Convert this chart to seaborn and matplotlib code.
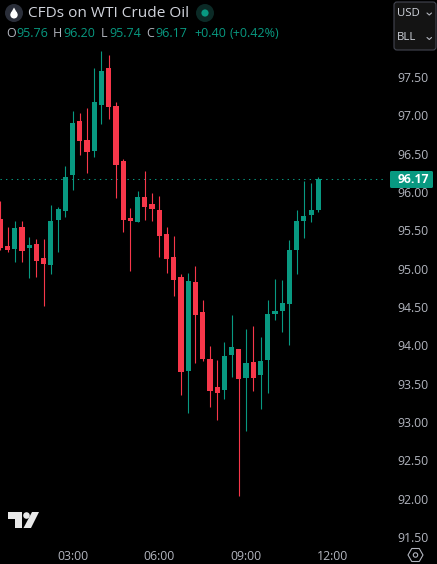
import numpy as np
import pandas as pd
import seaborn as sns
import matplotlib.pyplot as plt
from matplotlib.patches import Circle, FancyBboxPatch, Polygon, RegularPolygon

# 15 minute candles, first one sits at index 0 (left edge of the chart)
opens = [95.65, 95.30, 95.26, 95.54, 95.27, 95.32, 95.14, 95.05, 95.63, 95.75, 96.22, 96.93, 96.68, 96.53, 97.13,
         97.62, 97.12, 96.40, 95.66, 95.61, 95.94, 95.84, 95.77, 95.45, 95.15, 94.89, 93.67, 94.83, 94.44, 93.82,
         93.46, 93.42, 93.88, 93.95, 93.58, 93.78, 93.61, 93.81, 94.41, 94.45, 94.54, 95.24, 95.62, 95.70, 95.76]
highs = [95.88, 95.54, 95.62, 95.62, 95.41, 95.39, 95.39, 95.83, 95.80, 96.34, 97.06, 97.03, 97.10, 97.62, 97.84,
         97.79, 97.17, 96.43, 95.79, 96.01, 96.27, 95.99, 95.95, 95.54, 95.43, 94.93, 94.94, 95.04, 94.59, 93.99,
         93.81, 94.05, 94.40, 93.95, 94.21, 94.25, 94.11, 94.59, 94.87, 94.85, 95.38, 95.77, 96.14, 96.12, 96.20]
lows = [95.24, 95.22, 95.09, 95.09, 94.88, 94.89, 94.51, 94.93, 95.22, 95.67, 96.03, 96.48, 96.25, 96.46, 96.89,
        96.95, 95.92, 95.48, 94.97, 95.61, 95.63, 95.62, 95.15, 94.94, 94.64, 93.35, 93.12, 93.77, 93.80, 93.20,
        93.03, 93.30, 93.59, 92.04, 92.88, 93.41, 93.17, 93.38, 94.33, 94.18, 94.01, 94.93, 95.40, 95.61, 95.74]
closes = [95.27, 95.24, 95.53, 95.23, 95.31, 95.10, 95.06, 95.62, 95.78, 96.20, 96.90, 96.66, 96.52, 97.17, 97.58,
          97.11, 96.35, 95.63, 95.62, 95.94, 95.80, 95.78, 95.43, 95.13, 94.85, 93.65, 94.84, 94.40, 93.82, 93.41,
          93.38, 93.86, 93.98, 93.56, 93.77, 93.58, 93.80, 94.41, 94.45, 94.55, 95.24, 95.62, 95.69, 95.77, 96.17]

price_ticks = [91.5, 92.0, 92.5, 93.0, 93.5, 94.0, 94.5, 95.0, 95.5, 96.0, 96.5, 97.0, 97.5]
time_ticks = [10, 22, 34, 46]
time_labels = ['03:00', '06:00', '09:00', '12:00']
last_price = 96.17

UP = '#089981'
DOWN = '#f7374a'
TEXT = '#b2b5be'
FONT = 'Open Sans'

sns.set_theme(style='dark', rc={'axes.facecolor': 'black', 'figure.facecolor': 'black', 'axes.grid': False})
plt.rcParams['font.family'] = [FONT, 'DejaVu Sans']

df = pd.DataFrame({'i': np.arange(len(opens)), 'open': opens, 'high': highs, 'low': lows, 'close': closes})
df['body'] = (df['close'] - df['open']).abs()
df['base'] = df[['open', 'close']].min(axis=1)
df['color'] = np.where(df['close'] >= df['open'], UP, DOWN)

W, H = 437, 564
fig = plt.figure(figsize=(W / 100, H / 100), dpi=100)
ax = fig.add_axes([0, 1 - 543 / H, 387 / W, 543 / H])

wicks = ax.vlines(df['i'], df['low'], df['high'], colors=df['color'], linewidth=0.8, zorder=2)
wicks.set_snap(True)
for color, part in df.groupby('color'):
    sns.barplot(data=part, x='i', y='body', bottom=part['base'].values, native_scale=True, width=0.72,
                color=color, saturation=1, linewidth=0, errorbar=None, ax=ax, zorder=3)

ax.axhline(last_price, color=UP, linewidth=0.75, dashes=(1.3, 4), zorder=1)

ax.set_xlim(-0.04, 53.5)
ax.set_ylim(91.424, 98.504)
ax.set_xlabel('')
ax.set_ylabel('')
for side in ax.spines.values():
    side.set_visible(False)
ax.yaxis.tick_right()
ax.set_yticks(price_ticks)
ax.set_yticklabels([f'{p:.2f}' for p in price_ticks])
ax.set_xticks(time_ticks)
ax.set_xticklabels(time_labels)
ax.tick_params(axis='y', length=0, pad=7.5, labelsize=8.8, labelcolor=TEXT, right=False, labelright=True)
ax.tick_params(axis='x', length=0, pad=5.3, labelsize=8.8, labelcolor=TEXT)

# chart chrome, drawn in pixel coordinates
ui = fig.add_axes([0, 0, 1, 1], facecolor='none')
ui.set_xlim(0, W)
ui.set_ylim(H, 0)
ui.axis('off')

# symbol icon + name
ui.add_patch(Circle((14, 13), 9, color='#2a2e39', lw=0))
ui.add_patch(Circle((14, 14.8), 3.7, color='white', lw=0))
ui.add_patch(Polygon([[14, 7.5], [10.9, 13], [17.1, 13]], color='white', lw=0))
ui.text(28, 13.5, 'CFDs on WTI Crude Oil', color='#d1d4dc', fontsize=11.05, va='center', ha='left')
ui.add_patch(Circle((205, 13), 9, color='#0b2a26', lw=0))
ui.add_patch(Circle((205, 13), 3.6, color=UP, lw=0))

# OHLC legend
legend_items = [(6, 'O', TEXT), (16, '95.76', UP), (53, 'H', TEXT), (63, '96.20', UP), (101, 'L', TEXT),
                (109, '95.74', UP), (146, 'C', TEXT), (155, '96.17', UP), (194, '+0.40', UP), (230, '(+0.42%)', UP)]
for x, label, color in legend_items:
    ui.text(x, 33.5, label, color=color, fontsize=9.0, va='center', ha='left')

# currency / unit selector
ui.add_patch(FancyBboxPatch((394, 2), 42, 48, boxstyle='round,pad=0,rounding_size=3',
                            fc='#141414', ec='#434651', lw=0.8))
ui.text(397, 13.5, 'USD', color='#d1d4dc', fontsize=8.2, va='center', ha='left')
ui.text(397, 37.5, 'BLL', color='#d1d4dc', fontsize=8.2, va='center', ha='left')
for y in (14, 38.5):
    ui.plot([427, 429.3, 431.5], [y - 1, y + 1, y - 1], color=TEXT, lw=0.8)

# last price badge
ui.add_patch(FancyBboxPatch((390, 171), 43, 17, boxstyle='round,pad=0,rounding_size=1.5', fc=UP, ec='none', zorder=5))
ui.text(413, 179.8, f'{last_price:.2f}', color='white', fontsize=8.8, fontweight='bold',
        va='center', ha='center', zorder=6)

# TradingView logo
ui.add_patch(Polygon([[8, 512], [22, 512], [22, 528], [15, 528], [15, 518.5], [8, 518.5]], color='#e8e8e8', lw=0))
ui.add_patch(Circle((26.5, 515.5), 3.3, color='#e8e8e8', lw=0))
ui.add_patch(Polygon([[32, 512], [39, 512], [31, 528], [23.5, 528]], color='#e8e8e8', lw=0))

# settings hexagon
ui.add_patch(RegularPolygon((415.5, 555), 6, radius=7.5, orientation=np.pi / 6, fill=False, ec=TEXT, lw=0.8))
ui.add_patch(Circle((415.5, 555), 2.2, fill=False, ec=TEXT, lw=0.8))

fig.savefig('out.png', dpi=100, facecolor='black')
